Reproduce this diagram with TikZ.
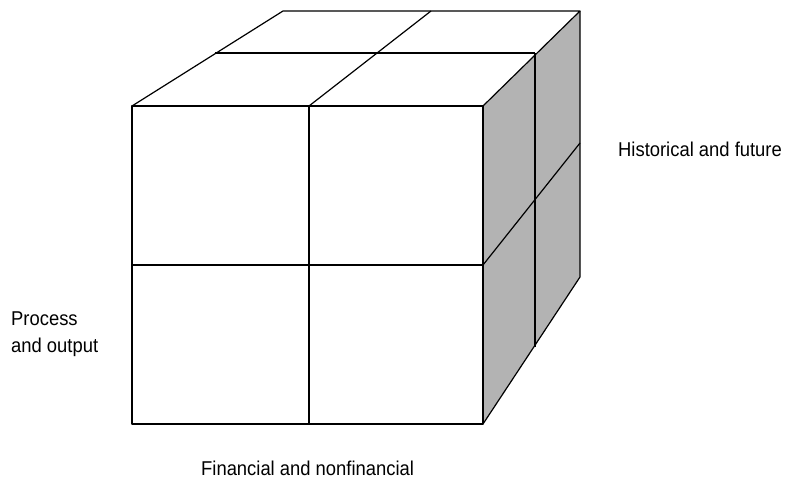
\documentclass[tikz,border=0pt]{standalone}
\usepackage{fontspec}
\setmainfont[FakeStretch=0.92]{Liberation Sans}
\begin{document}
\begin{tikzpicture}[x=1pt,y=-1pt,
  edge/.style={draw=black,line width=1.2pt,line join=round},
  lbl/.style={inner sep=0pt,anchor=base west,font=\fontsize{20}{24}\selectfont}]
\useasboundingbox (0,0) rectangle (793,479);
% front face corners
\coordinate (ftl) at (132,106);
\coordinate (ftr) at (483,106);
\coordinate (fbl) at (132,424);
\coordinate (fbr) at (483,424);
% back corners
\coordinate (btl) at (283,11);
\coordinate (btr) at (580,11);
\coordinate (bbr) at (580,277);
% right face fill
\fill[fill={rgb,255:red,179;green,179;blue,179}] (ftr) -- (btr) -- (bbr) -- (fbr) -- cycle;
% front face
\draw[edge] (ftl) rectangle (fbr);
\draw[edge] (309,106) -- (309,424);
\draw[edge] (132,265) -- (483,265);
% top face
\draw[edge] (ftl) -- (btl) -- (btr) -- (ftr);
\draw[edge] (215,53) -- (535,53);
\draw[edge] (309,106) -- (431,11);
% right face
\draw[edge] (btr) -- (bbr) -- (fbr);
\draw[edge] (535,53) -- (535,347);
\draw[edge] (483,265) -- (580,143);
% labels
\node[lbl] (hist) at (618,156) {Historical and future};
\node[lbl] (proc) at (11,325) {Process};
\node[lbl] (outp) at (11,352) {and output};
\node[lbl] (fin) at (201,475) {Financial and nonfinancial};
\end{tikzpicture}
\end{document}
